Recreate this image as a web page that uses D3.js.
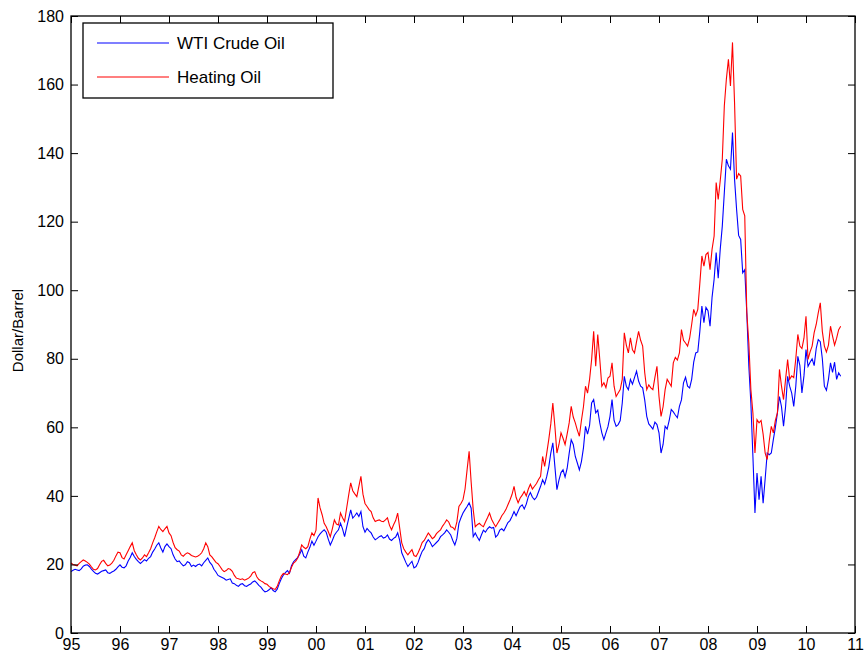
<!DOCTYPE html>
<html>
<head>
<meta charset="utf-8">
<script src="https://d3js.org/d3.v7.min.js"></script>
<style>
  body { margin: 0; background: #fff; }
  text { font-family: "Liberation Sans", Arial, Helvetica, sans-serif; }
</style>
</head>
<body>
<script>
// half-monthly readings, starting Jan 1995
var startYear = 1995, perYear = 24;

var wti = [
  17.9, 18.3, 18.6, 18.4, 18.2, 18.7, 19.5, 19.8, 19.9, 19.4, 18.6, 18.0, 17.4, 17.2, 17.6, 18.0, 18.2, 18.4, 17.6, 17.4, 17.8, 18.1, 18.6, 19.3,
  19.9, 19.2, 19.0, 19.6, 21.0, 22.0, 23.4, 22.3, 21.5, 20.8, 20.3, 20.8, 21.4, 21.0, 21.8, 22.3, 23.6, 24.5, 25.6, 26.3, 24.8, 23.6, 25.2, 26.0,
  25.2, 24.6, 22.8, 21.6, 20.8, 21.0, 20.2, 19.6, 19.9, 20.8, 20.5, 19.4, 19.8, 19.4, 19.9, 20.1, 19.6, 20.5, 21.2, 21.9, 20.6, 19.9, 18.6, 17.8,
  16.8, 16.5, 16.2, 15.9, 15.4, 15.6, 15.8, 14.6, 14.4, 13.9, 13.6, 14.2, 14.4, 13.8, 13.6, 14.0, 14.3, 14.9, 15.2, 14.6, 13.9, 13.4, 12.6, 12.0,
  12.2, 12.6, 13.2, 12.4, 12.0, 12.8, 14.4, 15.8, 16.9, 17.6, 18.2, 17.4, 19.6, 20.8, 21.4, 22.0, 23.0, 24.3, 22.4, 21.9, 23.6, 25.0, 26.8, 25.6,
  26.8, 28.1, 28.9, 29.6, 30.1, 29.4, 27.4, 25.7, 27.0, 28.5, 29.4, 30.1, 32.0, 30.4, 28.1, 30.8, 33.4, 35.9, 33.5, 34.2, 35.0, 34.0, 35.4, 31.0,
  29.4, 30.5, 29.8, 29.2, 28.0, 27.2, 27.6, 28.1, 28.4, 27.7, 27.9, 28.6, 27.4, 27.0, 27.6, 28.0, 29.2, 27.0, 23.4, 22.0, 20.6, 19.4, 20.2, 20.9,
  19.0, 19.4, 20.6, 22.3, 23.8, 24.6, 26.3, 27.2, 26.4, 25.2, 25.8, 26.4, 27.0, 28.1, 28.6, 29.2, 30.1, 29.4, 28.6, 27.0, 25.7, 27.6, 32.0, 33.6,
  35.0, 36.0, 36.9, 38.0, 36.4, 28.1, 29.2, 28.0, 27.0, 28.6, 30.0, 29.4, 30.4, 31.0, 30.6, 30.8, 28.0, 28.6, 30.0, 30.4, 29.8, 31.0, 32.2, 32.8,
  34.0, 35.4, 34.2, 35.6, 36.9, 37.4, 36.2, 37.6, 39.8, 41.0, 39.6, 38.9, 39.6, 41.2, 42.8, 44.7, 43.4, 45.6, 48.4, 52.5, 55.5, 48.6, 41.8, 44.6,
  46.8, 47.6, 45.5, 48.0, 52.4, 56.4, 55.0, 51.5, 49.6, 47.6, 50.0, 54.0, 60.3, 58.0, 60.6, 67.1, 68.1, 64.2, 65.0, 61.3, 58.4, 56.4, 58.4, 60.2,
  63.2, 68.1, 62.0, 60.3, 60.8, 62.0, 67.1, 74.9, 72.0, 71.0, 74.0, 72.6, 74.5, 76.4, 73.5, 72.0, 71.5, 68.0, 63.2, 61.0, 60.3, 59.5, 61.5, 60.8,
  58.4, 52.5, 55.0, 60.3, 59.5, 62.0, 65.2, 64.5, 63.6, 62.8, 66.1, 68.0, 73.0, 74.6, 72.0, 71.5, 74.0, 79.0, 81.7, 82.0, 88.0, 95.4, 90.5, 95.0,
  94.0, 89.5, 98.0, 103.2, 111.0, 103.5, 112.0, 118.7, 128.5, 138.2, 136.3, 135.3, 146.0, 132.4, 123.6, 116.0, 114.8, 105.1, 106.0, 93.4, 77.8, 67.1, 51.5, 35.0,
  46.7, 38.9, 45.7, 37.9, 45.0, 52.5, 52.0, 52.5, 56.4, 60.0, 64.2, 69.0, 66.0, 60.3, 66.0, 74.9, 72.0, 70.0, 66.1, 72.0, 80.7, 78.0, 70.0, 75.0,
  82.7, 77.8, 79.0, 80.0, 78.0, 83.0, 85.6, 85.0, 80.0, 72.0, 70.8, 74.0, 78.8, 76.0, 79.0, 74.0, 75.9, 74.9
];

var heatingOil = [
  20.4, 20.0, 19.8, 19.6, 20.3, 20.8, 21.3, 21.0, 20.6, 20.1, 19.3, 18.6, 18.4, 18.8, 19.9, 20.9, 21.2, 20.3, 19.6, 19.8, 20.4, 21.2, 22.5, 23.6,
  23.4, 22.0, 21.6, 22.8, 24.0, 25.2, 26.3, 24.0, 22.8, 21.8, 21.3, 21.9, 22.8, 22.3, 23.4, 24.6, 26.3, 27.8, 29.5, 31.1, 30.2, 29.6, 30.4, 31.1,
  29.2, 28.4, 26.4, 24.9, 24.3, 23.9, 22.8, 22.4, 23.0, 23.4, 23.1, 22.6, 22.4, 22.2, 22.4, 22.8, 23.4, 24.6, 26.3, 25.2, 22.8, 22.2, 21.4, 20.6,
  20.2, 19.4, 18.5, 17.9, 18.2, 18.8, 18.6, 18.0, 16.8, 16.0, 15.8, 15.6, 15.8, 15.4, 15.7, 16.0, 16.6, 17.6, 17.9, 16.4, 15.6, 15.2, 14.9, 14.4,
  14.2, 13.6, 13.2, 12.9, 12.7, 13.6, 15.2, 16.6, 17.4, 17.2, 17.0, 17.6, 19.2, 20.4, 20.9, 21.8, 23.6, 25.7, 25.0, 24.6, 25.2, 27.4, 29.2, 28.4,
  30.0, 39.4, 36.5, 34.5, 32.0, 31.0, 29.6, 28.1, 30.4, 33.0, 31.8, 31.5, 35.0, 33.6, 32.5, 36.4, 40.2, 43.8, 41.5, 40.6, 39.8, 42.8, 45.7, 40.5,
  37.8, 36.9, 36.0, 35.4, 33.6, 32.5, 32.8, 33.0, 32.6, 32.5, 33.0, 33.6, 31.4, 30.1, 31.6, 32.8, 35.0, 30.6, 26.3, 24.6, 23.6, 22.8, 23.6, 24.3,
  22.6, 22.3, 23.4, 24.8, 26.4, 27.0, 28.1, 29.2, 28.4, 27.5, 28.0, 29.0, 29.6, 30.1, 31.2, 32.0, 33.0, 32.4, 31.0, 30.8, 30.1, 32.4, 36.9, 37.8,
  38.9, 42.0, 47.6, 53.0, 44.0, 36.0, 31.0, 31.6, 32.0, 31.4, 31.0, 32.4, 33.6, 35.0, 33.2, 32.0, 31.0, 32.0, 33.0, 34.2, 35.0, 36.0, 37.4, 38.8,
  40.4, 42.8, 39.6, 38.0, 39.4, 40.2, 41.3, 40.0, 42.0, 43.4, 42.0, 42.8, 43.6, 44.8, 45.7, 51.5, 48.6, 52.4, 56.4, 61.0, 67.1, 60.3, 52.5, 55.0,
  58.4, 56.8, 55.0, 58.0, 61.3, 66.1, 63.0, 61.3, 59.2, 57.4, 62.0, 66.0, 72.0, 70.0, 74.0, 79.8, 88.0, 77.8, 87.1, 79.8, 72.0, 73.0, 71.6, 74.4,
  74.9, 78.8, 72.0, 69.0, 70.0, 71.0, 74.0, 87.6, 84.0, 81.7, 86.1, 82.6, 81.7, 85.0, 88.0, 85.4, 83.7, 76.0, 71.0, 72.4, 71.5, 71.0, 74.6, 77.8,
  69.0, 63.2, 66.0, 71.0, 74.0, 73.0, 72.0, 78.8, 80.4, 79.6, 81.7, 88.5, 85.4, 84.6, 83.7, 86.0, 90.0, 94.4, 92.6, 94.4, 102.0, 110.0, 107.0, 110.4,
  111.0, 106.0, 112.0, 115.8, 131.4, 126.5, 132.0, 138.2, 153.8, 161.6, 167.4, 159.6, 172.3, 154.8, 132.4, 134.0, 133.3, 123.6, 121.7, 93.4, 84.7, 71.0, 64.2, 52.5,
  62.2, 61.3, 62.0, 58.0, 52.5, 50.6, 56.0, 60.3, 58.4, 62.0, 64.2, 76.9, 72.0, 68.1, 74.0, 79.8, 74.0, 75.0, 74.5, 80.0, 87.1, 83.7, 83.0, 86.0,
  92.4, 79.8, 82.0, 83.7, 87.6, 90.0, 93.4, 96.3, 88.0, 83.7, 82.0, 84.0, 89.5, 86.6, 84.0, 86.0, 88.5, 89.5
];

var yearTicks = [1995, 1996, 1997, 1998, 1999, 2000, 2001, 2002, 2003, 2004, 2005, 2006, 2007, 2008, 2009, 2010, 2011];
var yearLabels = ["95", "96", "97", "98", "99", "00", "01", "02", "03", "04", "05", "06", "07", "08", "09", "10", "11"];
var valueTicks = [0, 20, 40, 60, 80, 100, 120, 140, 160, 180];

var seriesNames = ["WTI Crude Oil", "Heating Oil"];
var seriesColors = ["#0000ff", "#ff0000"];

function draw() {
    var W = 865, H = 660;
    var mLeft = 71, mRight = 855, mTop = 16, mBottom = 633;

    var svg = d3.select("body").append("svg")
        .attr("width", W)
        .attr("height", H);

    var x = d3.scaleLinear().domain([1995, 2011]).range([mLeft, mRight]);
    var y = d3.scaleLinear().domain([0, 180]).range([mBottom, mTop]);

    var line = d3.line()
        .x(function(d, i) { return x(startYear + i / perYear); })
        .y(function(d) { return y(d); });

    [wti, heatingOil].forEach(function(s, k) {
        svg.append("path")
            .datum(s)
            .attr("fill", "none")
            .attr("stroke", seriesColors[k])
            .attr("stroke-width", 1.1)
            .attr("d", line);
    });

    // box + axes, ticks inward like matlab
    function styleAxis(g) {
        g.select(".domain").remove();
        g.selectAll(".tick line").attr("stroke", "#000");
        g.selectAll("text").attr("font-size", 16).attr("fill", "#000");
    }

    svg.append("g")
        .attr("transform", "translate(0," + mBottom + ")")
        .call(d3.axisBottom(x).tickValues(yearTicks)
            .tickFormat(function(d, i) { return yearLabels[i]; })
            .tickSizeInner(-7).tickSizeOuter(0).tickPadding(6))
        .call(styleAxis);

    svg.append("g")
        .attr("transform", "translate(0," + mTop + ")")
        .call(d3.axisTop(x).tickValues(yearTicks).tickFormat("")
            .tickSizeInner(-7).tickSizeOuter(0))
        .call(styleAxis);

    svg.append("g")
        .attr("transform", "translate(" + mLeft + ",0)")
        .call(d3.axisLeft(y).tickValues(valueTicks)
            .tickSizeInner(-7).tickSizeOuter(0).tickPadding(7))
        .call(styleAxis);

    svg.append("g")
        .attr("transform", "translate(" + mRight + ",0)")
        .call(d3.axisRight(y).tickValues(valueTicks).tickFormat("")
            .tickSizeInner(-7).tickSizeOuter(0))
        .call(styleAxis);

    svg.append("rect")
        .attr("x", mLeft).attr("y", mTop)
        .attr("width", mRight - mLeft).attr("height", mBottom - mTop)
        .attr("fill", "none")
        .attr("stroke", "#000")
        .attr("stroke-width", 1.3);

    svg.append("text")
        .attr("transform", "translate(23," + ((mTop + mBottom) / 2 + 6) + ") rotate(-90)")
        .attr("text-anchor", "middle")
        .attr("font-size", 15)
        .text("Dollar/Barrel");

    // legend
    var legend = svg.append("g");
    legend.append("rect")
        .attr("x", 83).attr("y", 23)
        .attr("width", 250).attr("height", 75)
        .attr("fill", "#fff")
        .attr("stroke", "#000")
        .attr("stroke-width", 1.3);

    seriesNames.forEach(function(label, k) {
        var ly = 43 + k * 34;
        legend.append("line")
            .attr("x1", 97).attr("x2", 169)
            .attr("y1", ly).attr("y2", ly)
            .attr("stroke", seriesColors[k])
            .attr("stroke-width", 1.2);
        legend.append("text")
            .attr("x", 177).attr("y", ly)
            .attr("dy", "0.35em")
            .attr("font-size", 17)
            .text(label);
    });
}

draw();
</script>
</body>
</html>
